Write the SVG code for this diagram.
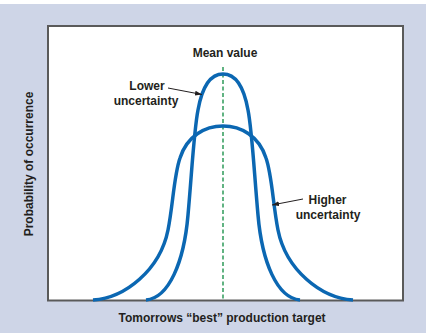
<svg xmlns="http://www.w3.org/2000/svg" width="432" height="333" viewBox="0 0 432 333">
<defs>
<style>
.lbl{font-family:"Liberation Sans",Arial,sans-serif;font-weight:bold;font-size:12px;fill:#231f20}
.curve{fill:none;stroke:#0b67b2;stroke-width:3.5}
.lead{stroke:#231f20;stroke-width:1}
</style>
<marker id="ah" viewBox="0 0 10 10" refX="10" refY="5" markerWidth="7" markerHeight="7" orient="auto" markerUnits="userSpaceOnUse">
<path d="M0,1.5 L10,5 L0,8.5 Z" fill="#231f20"/>
</marker>
</defs>
<rect x="0" y="4" width="426" height="329" fill="#ced5e7"/>
<g id="plot">
<rect x="48" y="26" width="355" height="274.5" fill="#ffffff" stroke="#5a5a5a" stroke-width="2"/>
</g>
<g id="mean-line">
<line x1="223" y1="67" x2="223" y2="299.5" stroke="#2e9a5a" stroke-width="1.5" stroke-dasharray="4,2.5"/>
</g>
<g id="lower-curve">
<path class="curve" d="M146,300 C169,298 184,262 188,215 C192,170 194,130 198,110 C203,82 213,74 223,74 C233,74 243,82 248,110 C252,130 254,170 258,215 C262,262 277,298 300,300"/>
</g>
<g id="higher-curve">
<path class="curve" d="M93,300 C125,298 160,270 168,230 C173,205 174,175 180,158 C187,136 205,126 223,126 C241,126 259,136 266,158 C272,175 273,205 278,230 C286,270 321,298 353,300"/>
</g>
<g id="connectors">
<line class="lead" x1="168" y1="88" x2="202" y2="94.5" marker-end="url(#ah)"/>
<line class="lead" x1="303" y1="199" x2="272" y2="205" marker-end="url(#ah)"/>
</g>
<g id="label-mean">
<text class="lbl" x="225" y="57" text-anchor="middle">Mean value</text>
</g>
<g id="label-lower">
<text class="lbl" x="147" y="90" text-anchor="middle">Lower</text>
<text class="lbl" x="146" y="105" text-anchor="middle">uncertainty</text>
</g>
<g id="label-higher">
<text class="lbl" x="327.5" y="204" text-anchor="middle">Higher</text>
<text class="lbl" x="328" y="219" text-anchor="middle">uncertainty</text>
</g>
<g id="axis-x">
<text class="lbl" x="222" y="322" text-anchor="middle">Tomorrows “best” production target</text>
</g>
<g id="axis-y">
<text class="lbl" transform="translate(33,164) rotate(-90)" text-anchor="middle">Probability of occurrence</text>
</g>
</svg>
